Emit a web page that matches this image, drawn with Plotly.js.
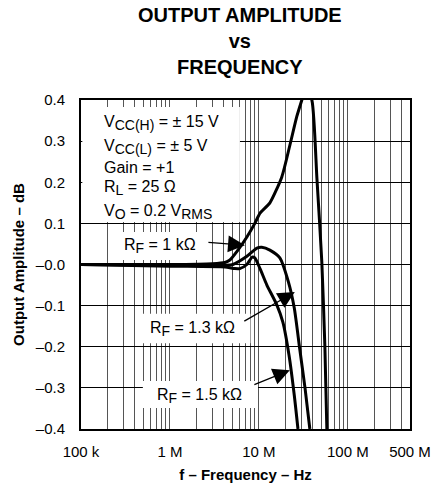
<!DOCTYPE html>
<html>
<head>
<meta charset="utf-8">
<script src="https://cdn.plot.ly/plotly-3.0.1.min.js"></script>
<style>html,body{margin:0;padding:0;background:#fff;}#chart{width:431px;height:487px;}</style>
</head>
<body>
<div id="chart"></div>
<script>
// Frequencies (Hz) and amplitudes (dB)
const freqRF1k  = [1e5, 1e6, 3e6, 4.15e6, 4.72e6, 5.81e6, 7.33e6, 9.0e6, 10.3e6, 13.3e6, 18.1e6, 22.3e6, 26.7e6, 30.4e6, 33.7e6, 39.4e6, 44.9e6, 51e6, 55.2e6, 58.1e6];
const ampRF1k   = [0, 0, 0.002, 0.005, 0.011, 0.035, 0.067, 0.10, 0.125, 0.15, 0.213, 0.29, 0.36, 0.40, 0.43, 0.40, 0.21, 0.006, -0.2, -0.4];

const freqRF13k = [1e5, 1e6, 4.15e6, 5.1e6, 7.33e6, 9.5e6, 10.8e6, 13.3e6, 17.2e6, 21.5e6, 25.0e6, 28.7e6, 33.0e6, 37.4e6];
const ampRF13k  = [0, -0.002, -0.002, 0.0, 0.02, 0.04, 0.042, 0.035, 0.016, -0.043, -0.106, -0.203, -0.30, -0.40];

const freqRF15k = [1e5, 1e6, 4.15e6, 5.37e6, 6.1e6, 7.33e6, 8.4e6, 9.0e6, 10.3e6, 12.3e6, 15.9e6, 18.6e6, 21.8e6, 25.0e6, 27.5e6];
const ampRF15k  = [0, -0.004, -0.006, -0.01, -0.01, 0.0, 0.018, 0.016, -0.01, -0.05, -0.098, -0.14, -0.22, -0.318, -0.40];

const xLabelVals = [1e5, 1e6, 1e7, 1e8, 5e8];
const xLabelText = ['100 k', '1 M', '10 M', '100 M', '500 M'];
const xMinorVals = [2e5,3e5,4e5,5e5,6e5,7e5,8e5,9e5,2e6,3e6,4e6,5e6,6e6,7e6,8e6,9e6,2e7,3e7,4e7,5e7,6e7,7e7,8e7,9e7,2e8,3e8,4e8];
const yTickVals = [0.4, 0.3, 0.2, 0.1, 0, -0.1, -0.2, -0.3, -0.4];
const yTickText = ['0.4', '0.3', '0.2', '0.1', '\u20130.0', '\u20130.1', '\u20130.2', '\u20130.3', '\u20130.4'];

const FONT = 'Liberation Sans, Arial, Helvetica, sans-serif';

function curve(x, y) {
  return {x: x, y: y, mode: 'lines', line: {color: '#000', width: 3, shape: 'spline', smoothing: 0.6}, hoverinfo: 'skip'};
}
const traces = [curve(freqRF1k, ampRF1k), curve(freqRF13k, ampRF13k), curve(freqRF15k, ampRF15k)];

function box(x0, x1, y0, y1) {
  return {type: 'rect', xref: 'paper', yref: 'paper', x0: x0, x1: x1, y0: y0, y1: y1,
          fillcolor: '#fff', line: {width: 0}, layer: 'above'};
}

function sub(s) { return '<sub><span style="font-size:14px">' + s + '</span></sub>'; }

function txt(text, x, y, anchor) {
  return {text: text, xref: 'paper', yref: 'paper', x: x, y: y, xanchor: anchor || 'left', yanchor: 'middle',
          showarrow: false, font: {family: FONT, size: 16, color: '#000'}};
}

function arrow(lx, y, ax, ay) {
  return {text: '', xref: 'x', yref: 'y', x: lx, y: y, ax: ax, ay: ay, axref: 'pixel', ayref: 'pixel',
          showarrow: true, arrowhead: 2, arrowsize: 2.6, arrowwidth: 1.3, arrowcolor: '#000', standoff: 0};
}

const layout = {
  width: 431, height: 487,
  margin: {l: 81, r: 21, t: 100, b: 58, pad: 0},
  paper_bgcolor: '#fff', plot_bgcolor: '#fff',
  showlegend: false,
  font: {family: FONT, color: '#000'},
  xaxis: {
    type: 'log', range: [5, Math.log10(5e8)],
    tickmode: 'array', tickvals: xLabelVals, ticktext: xLabelText,
    showgrid: true, gridcolor: '#555', gridwidth: 1,
    minor: {tickmode: 'array', tickvals: xMinorVals, showgrid: true, gridcolor: '#555', gridwidth: 1, ticks: ''},
    ticks: '', ticklabelstandoff: 8,
    tickfont: {family: FONT, size: 15, color: '#000'},
    showline: true, linecolor: '#000', linewidth: 2, mirror: true,
    zeroline: false, fixedrange: true,
    title: {text: '<b>f \u2013 Frequency \u2013 Hz</b>', font: {family: FONT, size: 15, color: '#000'}, standoff: 10}
  },
  yaxis: {
    range: [-0.4, 0.4],
    tickvals: yTickVals, ticktext: yTickText, tickmode: 'array',
    showgrid: true, gridcolor: '#000', gridwidth: 1,
    ticks: '', ticklabelstandoff: 11,
    tickfont: {family: FONT, size: 15, color: '#000'},
    showline: true, linecolor: '#000', linewidth: 2, mirror: true,
    zeroline: false, fixedrange: true,
    title: {text: '<b>Output Amplitude \u2013 dB</b>', font: {family: FONT, size: 15, color: '#000'}, standoff: 8}
  },
  shapes: [
    box(0.004, 0.483, 0.629, 0.979),
    box(0.119, 0.395, 0.514, 0.599),
    box(0.170, 0.515, 0.261, 0.350),
    box(0.188, 0.538, 0.064, 0.146)
  ],
  annotations: [
    {text: '<b>OUTPUT AMPLITUDE<br>vs<br>FREQUENCY</b>', xref: 'paper', yref: 'paper', x: 0.483, y: 1.18,
     xanchor: 'center', yanchor: 'middle', showarrow: false, font: {family: FONT, size: 20, color: '#000'}},
    txt('V' + sub('CC(H)') + ' = \u00b1 15 V', 0.064, 0.930),
    txt('V' + sub('CC(L)') + ' = \u00b1 5 V', 0.064, 0.857),
    txt('Gain = +1', 0.064, 0.796),
    txt('R' + sub('L') + ' = 25 \u03a9', 0.064, 0.733),
    txt('V' + sub('O') + ' = 0.2 V' + sub('RMS'), 0.064, 0.660),
    txt('R' + sub('F') + ' = 1 k\u03a9', 0.240, 0.556, 'center'),
    txt('R' + sub('F') + ' = 1.3 k\u03a9', 0.340, 0.304, 'center'),
    txt('R' + sub('F') + ' = 1.5 k\u03a9', 0.359, 0.100, 'center'),
    arrow(6.843, 0.047, -38, -3),
    arrow(7.404, -0.067, -52, 30),
    arrow(7.348, -0.257, -37, 15)
  ]
};

Plotly.newPlot('chart', traces, layout, {staticPlot: true, displayModeBar: false});
</script>
</body>
</html>
